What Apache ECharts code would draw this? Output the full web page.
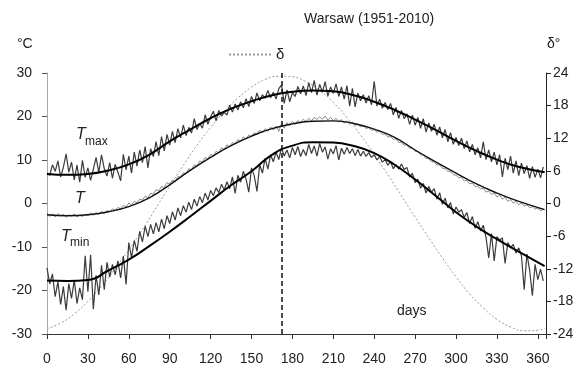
<!DOCTYPE html>
<html>
<head>
<meta charset="utf-8">
<script src="https://cdn.jsdelivr.net/npm/echarts@6/dist/echarts.min.js"></script>
<style>
  html, body { margin: 0; padding: 0; background: #fff; }
  #chart { width: 584px; height: 369px; }
</style>
</head>
<body>
<div id="chart"></div>
<script>
// daily series are sampled every 2 days starting at day 0
const rawStep = 2

const tmaxRaw = [
  7.0, 6.5, 8.9, 7.4, 9.8, 6.1, 8.3, 11.4, 7.2, 9.5, 5.4, 8.8, 4.9, 9.9, 6.0, 8.2, 5.3, 7.9, 10.6, 7.1, 11.2, 8.0, 6.3, 9.4, 5.8, 9.0, 7.2, 5.2, 11.3, 7.7, 10.9,
  7.0, 11.8, 8.6, 12.3, 9.4, 13.1, 8.2, 12.6, 10.8, 14.2, 11.0, 15.4, 12.1, 15.9, 13.4,
  16.6, 14.0, 17.2, 15.1, 18.0, 15.6, 17.5, 16.2, 19.5, 17.0, 18.4, 17.3, 20.4, 18.2, 19.9,
  21.2, 19.0, 21.4, 20.1, 21.0, 20.3, 22.6, 21.0, 22.9, 21.5, 23.4, 22.0, 24.1, 22.3, 24.6, 23.0, 25.4, 23.6, 25.0, 24.2, 26.0, 24.3, 25.6, 24.0, 26.4,
  27.2, 23.0, 26.1, 23.4, 25.5, 24.6, 26.9, 25.2, 27.0, 24.8, 27.8, 25.5, 28.3, 24.9, 27.4, 25.6, 28.0, 24.7, 26.8, 25.3,
  27.5, 24.6, 26.8, 24.0, 27.1, 22.4, 26.5, 22.2, 25.4, 23.6, 25.0, 23.1, 24.8, 22.7, 28.1, 22.4, 24.0, 21.9, 23.2, 21.6,
  23.0, 20.4, 22.1, 19.6, 21.4, 19.5, 20.6, 18.2, 20.3, 18.0, 19.8, 17.3, 19.5, 16.4, 18.5, 16.6, 18.2, 15.7, 17.6, 15.1, 17.0, 14.2, 16.3, 13.6, 15.2,
  13.3, 15.0, 12.6, 14.4, 11.9, 13.6, 11.2, 12.8, 10.5, 14.2, 10.1, 12.3, 9.6, 11.8, 8.9, 11.2, 6.1, 10.4, 7.8, 10.9, 7.0, 9.8, 6.4, 9.3, 6.9, 8.7, 5.8, 8.5, 6.0, 7.9, 5.9, 8.4
]

const tmeanRaw = [
  -2.2, -3.0, -2.4, -3.1, -2.3, -2.9, -2.5, -3.2, -2.6, -2.9, -2.4, -3.1, -2.7, -3.0, -2.5, -2.8, -2.2, -2.7, -2.1, -2.5, -1.8, -2.3, -1.6, -1.9, -1.2, -1.6, -0.9, -1.2, -0.4, -0.8, 0.1,
  -0.3, 0.5, 0.2, 1.0, 0.8, 1.7, 1.3, 2.4, 2.1, 3.2, 2.9, 3.9, 3.7, 4.8, 4.5,
  5.4, 5.1, 6.2, 6.0, 7.1, 6.8, 8.0, 7.7, 8.9, 8.6, 9.8, 9.5, 10.6, 10.3, 11.3,
  11.0, 12.0, 11.6, 12.8, 12.4, 13.5, 13.0, 14.0, 13.7, 14.7, 14.3, 15.3, 14.8, 15.8, 15.3, 16.3, 15.8, 16.9, 16.2, 17.2, 16.6, 17.6, 16.9, 17.8, 16.6,
  18.4, 17.3, 18.6, 17.9, 18.9, 18.2, 19.1, 18.5, 19.4, 18.8, 19.6, 19.0, 19.8, 19.3, 19.9, 19.4, 20.1, 19.2, 19.8, 19.0,
  19.6, 18.8, 19.3, 18.5, 19.0, 18.2, 18.7, 17.9, 18.3, 17.6, 17.9, 17.2, 17.5, 16.8, 17.0, 16.4, 16.6, 15.9, 16.0, 15.3,
  15.4, 14.7, 14.9, 14.0, 14.1, 13.4, 13.5, 12.7, 12.8, 12.0, 11.9, 11.2, 11.1, 10.4, 10.3, 9.6, 9.6, 8.8, 8.9, 8.1, 8.0, 7.4, 7.3, 6.6, 6.5,
  5.9, 6.0, 5.2, 5.3, 4.5, 4.7, 3.9, 4.0, 3.3, 3.5, 2.6, 2.9, 2.1, 2.4, 1.5, 1.9, 1.0, 1.4, 0.5, 0.9, 0.1, 0.5, -0.3, 0.1, -0.6, -0.3, -1.0, -0.7, -1.3, -1.0, -1.7, -1.3
]

const tminRaw = [
  -14.8, -18.5, -16.2, -21.4, -18.0, -23.2, -19.1, -24.5, -18.4, -21.8, -17.6, -23.0, -19.4, -22.1, -12.0, -20.3, -11.8, -24.3, -16.5, -21.0, -14.2, -19.8, -13.5, -16.9, -14.0, -16.4, -13.2, -17.1, -12.1, -18.6, -9.0,
  -12.5, -8.5, -11.0, -6.4, -8.8, -5.2, -7.6, -4.8, -7.0, -4.4, -6.5, -3.6, -5.8, -2.8, -4.6, -1.9, -3.8, -1.0, -2.8, -0.5, -2.0, 0.3, -1.4, 1.0, -0.6, 1.6, 0.2, 2.4, 0.8, 3.0,
  1.8, 3.6, 2.5, 4.4, 3.1, 5.0, 3.4, 6.1, 2.3, 6.5, 4.9, 7.4, 5.6, 2.6, 8.2, 6.4, 2.8, 8.9, 7.0, 10.4, 7.9, 11.2, 9.6, 11.8, 10.1,
  12.8, 10.9, 12.3, 10.5, 12.9, 11.2, 13.1, 10.8, 12.4, 11.0, 13.6, 11.5, 13.2, 10.9, 13.8, 11.8, 13.0, 10.2, 12.6, 11.4,
  13.3, 10.0, 12.7, 11.3, 12.9, 11.5, 12.6, 11.0, 12.4, 10.9, 12.0, 10.8, 11.7, 10.6, 11.2, 10.0, 10.8, 9.5, 10.1, 8.8,
  9.6, 8.0, 8.9, 7.9, 9.1, 7.8, 8.3, 6.1, 6.9, 4.8, 5.6, 3.5, 4.6, 2.4, 3.9, 2.6, 3.4, 1.0, 2.5, -0.2, 1.2, -1.0, 0.2, -2.4, -0.8,
  -2.0, -1.4, -3.2, -2.1, -4.6, -3.0, -5.7, -4.2, -6.3, -5.0, -7.8, -12.5, -6.9, -13.2, -7.6, -8.4, -7.9, -13.8, -9.0, -10.2, -9.4, -11.4, -10.2, -12.0, -19.8, -11.6, -15.3, -21.2, -14.0, -17.5, -15.1, -17.8
]

// fitted curves
const fitDays = [0, 15, 30, 45, 60, 75, 90, 105, 120, 135, 150, 165, 180, 195, 210, 225, 240, 255, 270, 285, 300, 315, 330, 345, 365]
const tmaxFit = [6.8, 6.6, 6.8, 7.6, 9.0, 11.2, 14.3, 17.0, 19.6, 21.8, 23.5, 24.9, 25.7, 26.0, 25.8, 24.9, 23.4, 21.5, 19.3, 16.9, 14.4, 12.1, 10.1, 8.5, 7.2]
const tmeanFit = [-2.6, -2.8, -2.6, -1.9, -0.7, 1.3, 4.3, 7.6, 10.6, 13.3, 15.5, 17.2, 18.3, 18.9, 19.0, 18.4, 17.1, 15.2, 12.3, 9.6, 7.0, 4.5, 2.4, 0.6, -1.4]
const tminFit = [-17.7, -17.8, -17.6, -15.4, -12.9, -9.8, -6.5, -3.0, 0.6, 4.2, 7.4, 11.2, 13.3, 14.1, 14.0, 13.2, 11.6, 8.9, 5.5, 1.8, -2.0, -5.3, -8.2, -10.9, -14.4]

// solar declination (right axis)
const declDays = [0, 10, 20, 30, 40, 50, 60, 70, 80, 90, 100, 110, 120, 130, 140, 150, 160, 170, 180, 190, 200, 210, 220, 230, 240, 250, 260, 270, 280, 290, 300, 310, 320, 330, 340, 350, 360, 365]
const declination = [-23.0, -22.0, -20.3, -18.0, -15.2, -12.0, -8.5, -4.8, -0.8, 3.2, 7.0, 10.7, 14.0, 16.9, 19.4, 21.4, 22.8, 23.4, 23.3, 22.4, 20.8, 18.6, 15.8, 12.6, 9.0, 5.3, 1.4, -2.5, -6.3, -10.0, -13.5, -16.6, -19.2, -21.3, -22.7, -23.4, -23.3, -23.0]

const solsticeDay = 172
const xTicks = [0, 30, 60, 90, 120, 150, 180, 210, 240, 270, 300, 330, 360]

const raw = arr => arr.map((v, i) => [i * rawStep, v])
const pairs = (xs, ys) => xs.map((x, i) => [x, ys[i]])

const font = 'Liberation Sans, Arial, sans-serif'
const chart = echarts.init(document.getElementById('chart'))

const lineSeries = (name, data, color, width, extra) => Object.assign({
  name: name,
  type: 'line',
  data: data,
  symbol: 'none',
  silent: true,
  animation: false,
  lineStyle: { color: color, width: width }
}, extra || {})

const option = {
  animation: false,
  textStyle: { fontFamily: font },
  title: {
    text: 'Warsaw (1951-2010)',
    left: 299,
    top: 7,
    textStyle: { fontSize: 14, fontWeight: 'normal', color: '#222', fontFamily: font }
  },
  legend: {
    data: [{ name: 'δ', itemStyle: { opacity: 0 } }],
    left: 223,
    top: 42,
    itemWidth: 42,
    itemHeight: 8,
    itemGap: 6,
    textStyle: { fontSize: 15, color: '#222', fontFamily: font }
  },
  grid: { left: 47, right: 38, top: 73, bottom: 35 },
  xAxis: {
    type: 'value',
    min: 0,
    max: 366,
    interval: 30,
    splitLine: { show: false },
    axisLine: { onZero: false, lineStyle: { color: '#333' } },
    axisTick: { length: 5, lineStyle: { color: '#333' } },
    axisLabel: {
      margin: 18,
      fontSize: 14,
      color: '#222',
      formatter: v => xTicks.includes(v) ? String(v) : ''
    }
  },
  yAxis: [
    {
      type: 'value',
      min: -30,
      max: 30,
      interval: 10,
      splitLine: { show: false },
      axisLine: { show: true, lineStyle: { color: '#a8a8a8' } },
      axisTick: { show: true, length: 5, lineStyle: { color: '#555' } },
      axisLabel: { margin: 15, fontSize: 14, color: '#222' }
    },
    {
      type: 'value',
      min: -24,
      max: 24,
      interval: 6,
      position: 'right',
      splitLine: { show: false },
      axisLine: { show: true, lineStyle: { color: '#222' } },
      axisTick: { show: true, length: 5, lineStyle: { color: '#222' } },
      axisLabel: { margin: 7, fontSize: 14, color: '#222' }
    }
  ],
  graphic: [
    { type: 'text', left: 17, top: 37, style: { text: '°C', fill: '#222', font: '14px ' + font } },
    { type: 'text', left: 547, top: 37, style: { text: 'δ°', fill: '#222', font: '14px ' + font } },
    { type: 'text', left: 397, top: 304, style: { text: 'days', fill: '#222', font: '14px ' + font } },
    { type: 'text', left: 76, top: 127, style: { text: 'T', fill: '#222', font: 'italic 16px ' + font } },
    { type: 'text', left: 85, top: 136, style: { text: 'max', fill: '#222', font: '12px ' + font } },
    { type: 'text', left: 75, top: 191, style: { text: 'T', fill: '#222', font: 'italic 16px ' + font } },
    { type: 'text', left: 61, top: 229, style: { text: 'T', fill: '#222', font: 'italic 16px ' + font } },
    { type: 'text', left: 70, top: 237, style: { text: 'min', fill: '#222', font: '12px ' + font } }
  ],
  series: [
    lineSeries('δ', pairs(declDays, declination), '#9a9a9a', 1, {
      yAxisIndex: 1,
      smooth: true,
      lineStyle: { color: '#9a9a9a', width: 1, type: [2, 2] },
      markLine: {
        silent: true,
        symbol: 'none',
        label: { show: false },
        lineStyle: { color: '#111', width: 1.5, type: [5, 3] },
        data: [{ xAxis: solsticeDay }]
      }
    }),
    lineSeries('Tmax raw', raw(tmaxRaw), '#3c3c3c', 1.2),
    lineSeries('T raw', raw(tmeanRaw), '#8a8a8a', 1),
    lineSeries('Tmin raw', raw(tminRaw), '#3c3c3c', 1.2),
    lineSeries('Tmax fit', pairs(fitDays, tmaxFit), '#000', 2, { smooth: true }),
    lineSeries('T fit', pairs(fitDays, tmeanFit), '#111', 1.4, { smooth: true }),
    lineSeries('Tmin fit', pairs(fitDays, tminFit), '#000', 2, { smooth: true })
  ]
}

chart.setOption(option)
</script>
</body>
</html>
